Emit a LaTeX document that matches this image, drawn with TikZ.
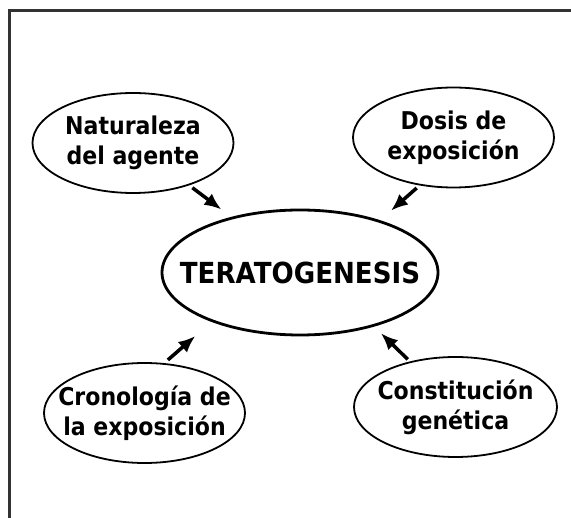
\documentclass[tikz,border=0pt]{standalone}
\usepackage{fontspec}
\setmainfont{DejaVu Sans}[FakeStretch=0.9]
\usetikzlibrary{arrows.meta,shapes.geometric}

\begin{document}
\begin{tikzpicture}[x=1pt,y=-1pt,
  idea/.style={draw,ellipse,line width=1.8pt,inner xsep=-30pt,inner ysep=0pt,outer sep=0pt,
    minimum width=201pt,minimum height=100pt,align=center,font=\bfseries\fontsize{24.5}{30}\selectfont},
  flecha/.style={line width=3.5pt,-{Latex[length=17pt,width=14pt]}}]
\useasboundingbox (0,0) rectangle (571,518);
\draw[black!80,line width=3pt] (9,518) -- (9,11) -- (571,11);
\node[idea,line width=2.8pt,minimum width=276pt,minimum height=125pt,font=\bfseries\fontsize{29}{35}\selectfont] (ter) at (300,272.5) {TERATOGENESIS};
\node[idea] (nat) at (133,143) {Naturaleza\\del agente};
\node[idea] (dos) at (453.5,137.5) {Dosis de\\exposición};
\node[idea] (cro) at (144.5,413) {Cronología de\\la exposición};
\node[idea,minimum width=203pt] (con) at (455.5,407) {Constitución\\genética};
\draw[flecha,shorten <=5pt,shorten >=14pt] (nat.323) -- (ter.141);
\draw[flecha,shorten <=5pt,shorten >=16pt] (dos.235) -- (ter.33);
\draw[flecha,shorten <=6pt,shorten >=23pt] (cro.69) -- (ter.209);
\draw[flecha,shorten <=4pt,shorten >=11pt] (con.135) -- (ter.324);
\end{tikzpicture}
\end{document}
